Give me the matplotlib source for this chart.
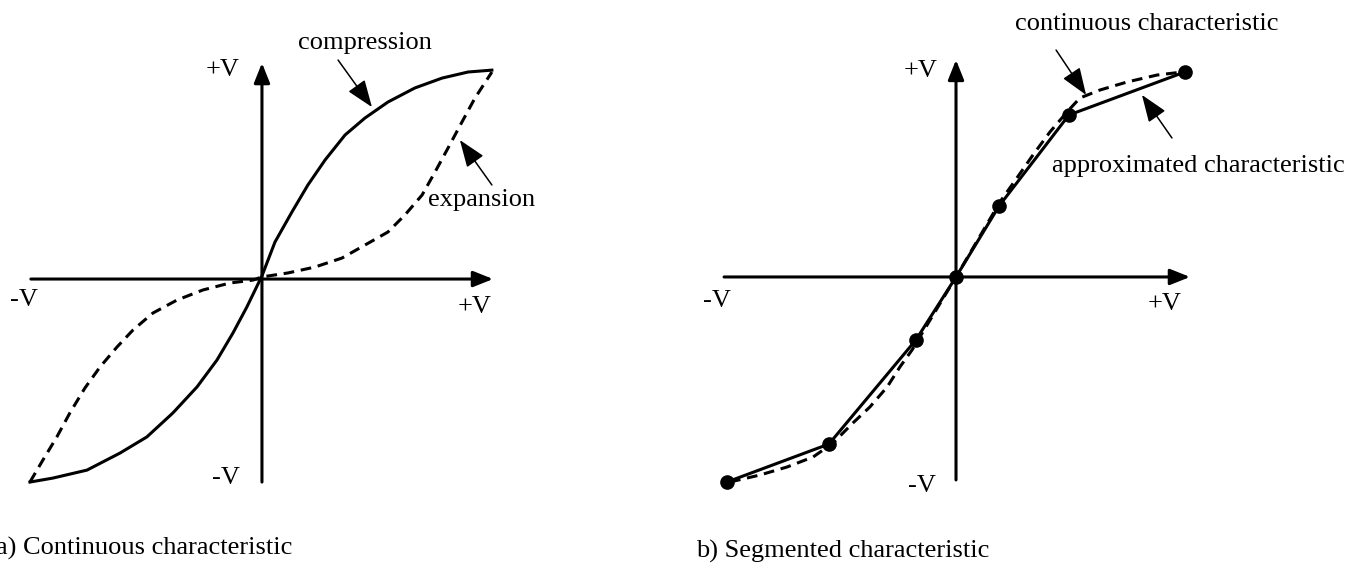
import matplotlib
matplotlib.use("Agg")
import matplotlib.pyplot as plt

plt.rcParams['font.family'] = ['Liberation Serif', 'DejaVu Serif']
FONT_SIZE = 19

# --- a) continuous characteristic (normalised to +/-V) ---
compression_x = [-1.0, -0.901, -0.754, -0.612, -0.496, -0.384, -0.28, -0.194, -0.125, -0.065,
                 0.0, 0.056, 0.129, 0.198, 0.272, 0.358, 0.444, 0.543, 0.659, 0.776,
                 0.888, 0.991]
compression_y = [-0.967, -0.948, -0.91, -0.829, -0.752, -0.638, -0.514, -0.386, -0.257, -0.133,
                 0.015, 0.176, 0.319, 0.448, 0.567, 0.686, 0.767, 0.843, 0.91, 0.957,
                 0.986, 0.995]

expansion_x = [-1.0, -0.944, -0.884, -0.828, -0.763, -0.698, -0.625, -0.556, -0.47, -0.366,
               -0.254, -0.138, -0.039, 0.0, 0.112, 0.228, 0.345, 0.444, 0.543, 0.616, 0.69,
               0.746, 0.802, 0.862, 0.918, 0.991]
expansion_y = [-0.967, -0.862, -0.752, -0.638, -0.519, -0.419, -0.324, -0.243, -0.162, -0.1,
               -0.052, -0.019, -0.005, 0.01, 0.029, 0.057, 0.1, 0.162, 0.224, 0.305, 0.4,
               0.51, 0.624, 0.748, 0.862, 0.986]

# --- b) segmented characteristic ---
segment_x = [-1.0, -0.555, -0.175, 0.0, 0.188, 0.493, 1.0]
segment_y = [-1.0, -0.815, -0.307, 0.0, 0.346, 0.79, 1.0]

continuous_x = [-0.987, -0.856, -0.738, -0.624, -0.537, -0.45, -0.376, -0.301, -0.245, -0.192,
                0.0, 0.192, 0.266, 0.336, 0.41, 0.485, 0.541, 0.629, 0.747, 0.878, 0.991]
continuous_y = [-1.0, -0.966, -0.927, -0.878, -0.81, -0.712, -0.634, -0.537, -0.439, -0.356,
                0.0, 0.366, 0.483, 0.595, 0.707, 0.805, 0.873, 0.912, 0.951, 0.985, 1.0]

LW = 2.2
DASH = (0, (3.5, 2.2))

fig = plt.figure(figsize=(13.62, 5.65), dpi=100)
ax_a = fig.add_axes([0, 0, 0.5, 1])
ax_b = fig.add_axes([0.5, 0, 0.5, 1])

ax_a.set_xlim(-1.129, 1.806)
ax_a.set_ylim(-1.362, 1.329)
ax_b.set_xlim(-1.201, 1.773)
ax_b.set_ylim(-1.405, 1.351)


def draw_axes(ax, x_ext, y_ext):
    """Cross-shaped axes with arrow heads on the positive ends."""
    arrow = dict(arrowstyle='-|>,head_length=0.6,head_width=0.24', color='black',
                 lw=LW, mutation_scale=20, shrinkA=0, shrinkB=0)
    ax.annotate('', xy=(x_ext[1], 0), xytext=(x_ext[0], 0), arrowprops=arrow)
    ax.annotate('', xy=(0, y_ext[1]), xytext=(0, y_ext[0]), arrowprops=arrow)
    ax.set_axis_off()


def pointer(ax, tail, head):
    ax.annotate('', xy=head, xytext=tail,
                arrowprops=dict(arrowstyle='-|>,head_length=0.8,head_width=0.3',
                                color='black', lw=1.1, mutation_scale=21,
                                shrinkA=0, shrinkB=0))


# a)
draw_axes(ax_a, (-0.996, 0.996), (-0.967, 1.029))
ax_a.plot(compression_x, compression_y, color='black', lw=LW, solid_joinstyle='round')
ax_a.plot(expansion_x, expansion_y, color='black', lw=LW, linestyle=DASH)

ax_a.text(-0.095, 0.995, '+V', ha='right', va='center', fontsize=FONT_SIZE)
ax_a.text(-1.086, -0.10, '-V', ha='left', va='center', fontsize=FONT_SIZE)
ax_a.text(0.991, -0.133, '+V', ha='right', va='center', fontsize=FONT_SIZE)
ax_a.text(-0.095, -0.948, '-V', ha='right', va='center', fontsize=FONT_SIZE)
ax_a.text(0.444, 1.124, 'compression', ha='center', va='center', fontsize=FONT_SIZE)
ax_a.text(0.716, 0.376, 'expansion', ha='left', va='center', fontsize=FONT_SIZE)
pointer(ax_a, (0.328, 1.043), (0.474, 0.819))
pointer(ax_a, (0.991, 0.448), (0.853, 0.662))
ax_a.text(0.129, -1.281, 'a) Continuous characteristic', ha='right', va='center',
          fontsize=FONT_SIZE)

# b)
draw_axes(ax_b, (-1.013, 1.022), (-0.99, 1.059))
ax_b.plot(continuous_x, continuous_y, color='black', lw=LW, linestyle=DASH)
ax_b.plot(segment_x, segment_y, color='black', lw=LW, marker='o', markersize=9.5)

ax_b.text(-0.079, 1.005, '+V', ha='right', va='center', fontsize=FONT_SIZE)
ax_b.text(-1.105, -0.117, '-V', ha='left', va='center', fontsize=FONT_SIZE)
ax_b.text(0.983, -0.132, '+V', ha='right', va='center', fontsize=FONT_SIZE)
ax_b.text(-0.087, -1.02, '-V', ha='right', va='center', fontsize=FONT_SIZE)
ax_b.text(0.834, 1.234, 'continuous characteristic', ha='center', va='center',
          fontsize=FONT_SIZE)
ax_b.text(0.419, 0.541, 'approximated characteristic', ha='left', va='center',
          fontsize=FONT_SIZE)
pointer(ax_b, (0.437, 1.107), (0.568, 0.888))
pointer(ax_b, (0.943, 0.678), (0.812, 0.888))
ax_b.text(-1.135, -1.337, 'b) Segmented characteristic', ha='left', va='center',
          fontsize=FONT_SIZE)

fig.savefig('out.png', dpi=100)
